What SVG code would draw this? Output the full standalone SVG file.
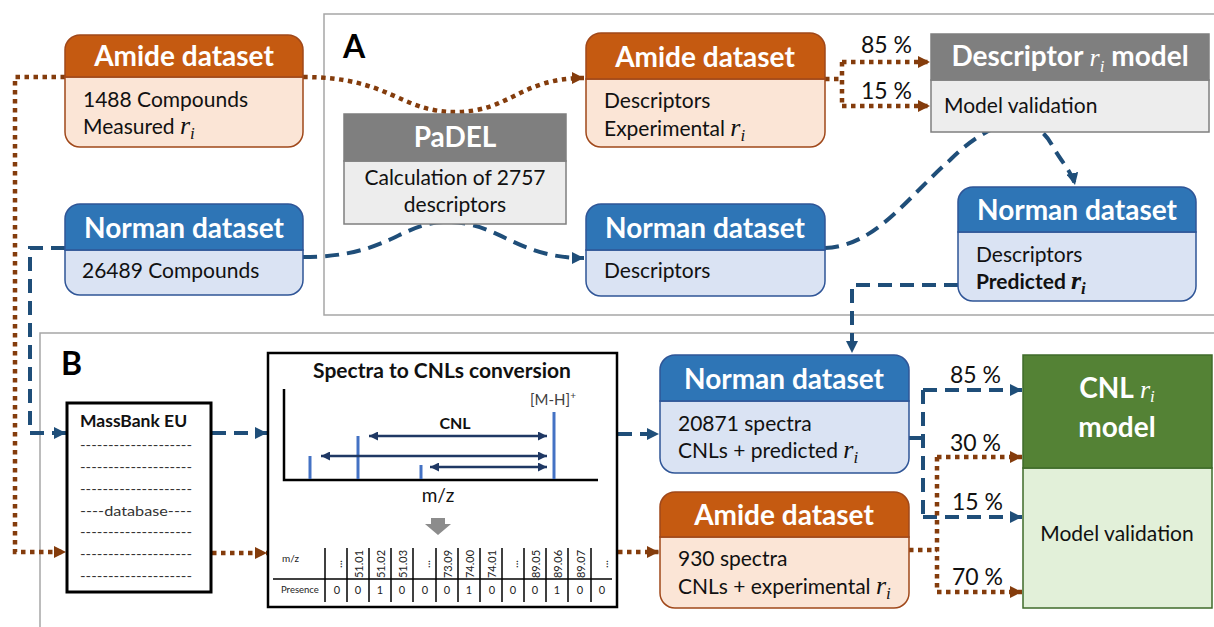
<svg xmlns="http://www.w3.org/2000/svg" width="1214" height="627" viewBox="0 0 1214 627">
  <style>
    text { font-family: Lato, "Liberation Sans", sans-serif; }
    .title { font-size: 28px; font-weight: bold; fill: #ffffff; text-anchor: middle; }
    .body { font-size: 21px; fill: #111111; }
    .mi { font-family: "Liberation Serif", serif; font-style: italic; font-size: 26px; }
    .sub { font-family: "Liberation Serif", serif; font-style: italic; font-size: 17px; }
    .panel { fill: none; stroke: #a6a6a6; stroke-width: 1.5; }
    .plabel { font-size: 32px; font-weight: bold; fill: #000; }
    .pct { font-size: 23px; fill: #111; }
    .blue-hd { fill: #2e75b6; stroke: #2f5597; stroke-width: 1.5; }
    .blue-bd { fill: #dae3f3; stroke: #2f5597; stroke-width: 1.5; }
    .or-hd { fill: #c55a11; stroke: #a0481a; stroke-width: 1.5; }
    .or-bd { fill: #fbe5d6; stroke: #a0481a; stroke-width: 1.5; }
    .gr-hd { fill: #7f7f7f; stroke: #7f7f7f; stroke-width: 1.5; }
    .gr-bd { fill: #ededed; stroke: #7f7f7f; stroke-width: 1.5; }
    .dash-b { fill: none; stroke: #1f4e79; stroke-width: 4; stroke-dasharray: 14 8; }
    .dot-o { fill: none; stroke: #843c0c; stroke-width: 4.5; stroke-dasharray: 4.5 4.5; }
    .peak { stroke: #4472c4; stroke-width: 3; }
    .dbl { stroke: #1f3864; stroke-width: 2.5; fill: none; }
    .tbl { stroke: #000; stroke-width: 1.5; }
    .small { font-size: 11px; fill: #222; text-anchor: middle; }
  </style>
  <defs>
    <marker id="ah-b" viewBox="0 0 12 12" refX="12" refY="6" markerWidth="12" markerHeight="12" markerUnits="userSpaceOnUse" orient="auto">
      <path d="M0,0 L12,6 L0,12 z" fill="#1f4e79"/>
    </marker>
    <marker id="ah-o" viewBox="0 0 12 12" refX="12" refY="6" markerWidth="12" markerHeight="12" markerUnits="userSpaceOnUse" orient="auto">
      <path d="M0,0 L12,6 L0,12 z" fill="#843c0c"/>
    </marker>
    <marker id="ah-n" viewBox="0 0 10 10" refX="10" refY="5" markerWidth="9" markerHeight="9" markerUnits="userSpaceOnUse" orient="auto-start-reverse">
      <path d="M0,0 L10,5 L0,10 z" fill="#1f3864"/>
    </marker>
  </defs>

  <rect width="1214" height="627" fill="#ffffff"/>

  <!-- panel frames -->
  <g id="panel-a">
    <rect class="panel" x="324" y="14" width="900" height="301"/>
    <text class="plabel" x="343" y="58">A</text>
  </g>
  <g id="panel-b">
    <path class="panel" d="M40,640 V333 H1220"/>
    <text class="plabel" x="61" y="375">B</text>
  </g>

  <!-- connectors -->
  <g id="connectors">
    <!-- amide (raw) to amide (descriptors) -->
    <path class="dot-o" d="M303,77 C390,77 400,112 455,112 C510,112 520,78 584,78" marker-end="url(#ah-o)"/>
    <!-- norman (raw) to norman (descriptors) -->
    <path class="dash-b" d="M303,257 C390,257 400,222 447,222 C500,222 515,258 584,258" marker-end="url(#ah-b)"/>
    <!-- amide split into descriptor model -->
    <path class="dot-o" d="M825,79 H842 M842,62 V106"/>
    <path class="dot-o" d="M842,62 H930" marker-end="url(#ah-o)"/>
    <path class="dot-o" d="M842,106 H930" marker-end="url(#ah-o)"/>
    <!-- norman descriptors through model to predicted -->
    <path class="dash-b" d="M825,248 C875,246 905,200 950,160 C985,125 1030,105 1052,145 C1062,163 1072,172 1075,185" marker-end="url(#ah-b)"/>
    <!-- predicted ri down to panel B -->
    <path class="dash-b" d="M958,285 H852 V353" marker-end="url(#ah-b)"/>
    <!-- long left connectors into MassBank -->
    <path class="dot-o" d="M65,77 H15 V552 H66" marker-end="url(#ah-o)"/>
    <path class="dash-b" d="M65,248 H30 V433 H66" marker-end="url(#ah-b)"/>
    <!-- MassBank to conversion -->
    <path class="dash-b" d="M212,433 H267" marker-end="url(#ah-b)"/>
    <path class="dot-o" d="M212,553 H267" marker-end="url(#ah-o)"/>
    <!-- conversion to datasets -->
    <path class="dash-b" d="M618,434 H659" marker-end="url(#ah-b)"/>
    <path class="dot-o" d="M618,552 H659" marker-end="url(#ah-o)"/>
    <!-- norman split into CNL model -->
    <path class="dash-b" d="M909,438 H923 M923,390 V517"/>
    <path class="dash-b" d="M923,390 H1022" marker-end="url(#ah-b)"/>
    <path class="dash-b" d="M923,517 H1022" marker-end="url(#ah-b)"/>
    <!-- amide split into CNL model -->
    <path class="dot-o" d="M909,550 H937 M937,457 V592"/>
    <path class="dot-o" d="M937,457 H1022" marker-end="url(#ah-o)"/>
    <path class="dot-o" d="M937,592 H1022" marker-end="url(#ah-o)"/>
  </g>

  <!-- split labels -->
  <g id="split-labels">
    <text class="pct" x="861" y="53">85 %</text>
    <text class="pct" x="861" y="99">15 %</text>
    <text class="pct" x="950" y="383">85 %</text>
    <text class="pct" x="950" y="451">30 %</text>
    <text class="pct" x="952" y="510">15 %</text>
    <text class="pct" x="952" y="585">70 %</text>
  </g>

  <!-- Amide dataset (raw) -->
  <g id="amide-raw">
    <path class="or-bd" d="M65,77 H303 V132 a15,15 0 0 1 -15,15 H80 a15,15 0 0 1 -15,-15 z"/>
    <path class="or-hd" d="M65,77 V50 a15,15 0 0 1 15,-15 H288 a15,15 0 0 1 15,15 V77 z"/>
    <text class="title" x="184" y="66">Amide dataset</text>
    <text class="body" x="83" y="107">1488 Compounds</text>
    <text class="body" x="83" y="134">Measured <tspan class="mi">r</tspan><tspan class="sub" dy="5">i</tspan></text>
  </g>

  <!-- Norman dataset (raw) -->
  <g id="norman-raw">
    <path class="blue-bd" d="M65,250 H303 V280 a15,15 0 0 1 -15,15 H80 a15,15 0 0 1 -15,-15 z"/>
    <path class="blue-hd" d="M65,250 V219 a15,15 0 0 1 15,-15 H288 a15,15 0 0 1 15,15 V250 z"/>
    <text class="title" x="184" y="238">Norman dataset</text>
    <text class="body" x="82" y="278">26489 Compounds</text>
  </g>

  <!-- PaDEL -->
  <g id="padel">
    <rect class="gr-bd" x="344" y="161" width="222" height="63"/>
    <rect class="gr-hd" x="344" y="114" width="222" height="47"/>
    <text class="title" x="455" y="147">PaDEL</text>
    <text class="body" x="455" y="185" text-anchor="middle">Calculation of 2757</text>
    <text class="body" x="455" y="212" text-anchor="middle">descriptors</text>
  </g>

  <!-- Amide dataset (descriptors) -->
  <g id="amide-desc">
    <path class="or-bd" d="M586,79 H825 V132 a15,15 0 0 1 -15,15 H601 a15,15 0 0 1 -15,-15 z"/>
    <path class="or-hd" d="M586,79 V48 a15,15 0 0 1 15,-15 H810 a15,15 0 0 1 15,15 V79 z"/>
    <text class="title" x="705" y="67">Amide dataset</text>
    <text class="body" x="604" y="108">Descriptors</text>
    <text class="body" x="604" y="136">Experimental <tspan class="mi">r</tspan><tspan class="sub" dy="5">i</tspan></text>
  </g>

  <!-- Norman dataset (descriptors) -->
  <g id="norman-desc">
    <path class="blue-bd" d="M586,250 H825 V281 a15,15 0 0 1 -15,15 H601 a15,15 0 0 1 -15,-15 z"/>
    <path class="blue-hd" d="M586,250 V219 a15,15 0 0 1 15,-15 H810 a15,15 0 0 1 15,15 V250 z"/>
    <text class="title" x="705" y="238">Norman dataset</text>
    <text class="body" x="604" y="278">Descriptors</text>
  </g>

  <!-- Descriptor ri model -->
  <g id="descriptor-model">
    <rect class="gr-bd" x="931" y="80" width="278" height="52"/>
    <rect class="gr-hd" x="931" y="34" width="278" height="46"/>
    <text class="title" x="1070" y="66">Descriptor <tspan class="mi" font-size="31" font-weight="normal">r</tspan><tspan class="sub" font-size="20" font-weight="normal" dy="6">i</tspan><tspan dy="-6"> model</tspan></text>
    <text class="body" x="944" y="113">Model validation</text>
  </g>

  <!-- Norman dataset (predicted) -->
  <g id="norman-pred">
    <path class="blue-bd" d="M958,232 H1196 V286 a15,15 0 0 1 -15,15 H973 a15,15 0 0 1 -15,-15 z"/>
    <path class="blue-hd" d="M958,232 V202 a15,15 0 0 1 15,-15 H1181 a15,15 0 0 1 15,15 V232 z"/>
    <text class="title" x="1077" y="220">Norman dataset</text>
    <text class="body" x="976" y="262">Descriptors</text>
    <text class="body" x="976" y="289" font-weight="bold">Predicted <tspan class="mi" font-weight="bold">r</tspan><tspan class="sub" font-weight="bold" dy="5">i</tspan></text>
  </g>

  <!-- MassBank EU -->
  <g id="massbank">
    <rect x="67" y="403" width="144" height="189" fill="#ffffff" stroke="#000" stroke-width="3"/>
    <text x="80" y="427" font-size="17.5" font-weight="bold" fill="#111">MassBank EU</text>
    <g font-size="14" fill="#333">
      <text x="80" y="450" textLength="112" lengthAdjust="spacingAndGlyphs">--------------------</text>
      <text x="80" y="472" textLength="112" lengthAdjust="spacingAndGlyphs">--------------------</text>
      <text x="80" y="494" textLength="112" lengthAdjust="spacingAndGlyphs">--------------------</text>
      <text x="80" y="516" textLength="112" lengthAdjust="spacingAndGlyphs">----database----</text>
      <text x="80" y="537" textLength="112" lengthAdjust="spacingAndGlyphs">--------------------</text>
      <text x="80" y="559" textLength="112" lengthAdjust="spacingAndGlyphs">--------------------</text>
      <text x="80" y="581" textLength="112" lengthAdjust="spacingAndGlyphs">--------------------</text>
    </g>
  </g>

  <!-- Spectra to CNLs conversion -->
  <g id="conversion">
    <rect x="268" y="353" width="349" height="254" fill="#ffffff" stroke="#000" stroke-width="2.5"/>
    <text x="442" y="378" font-size="21" font-weight="bold" fill="#111" text-anchor="middle">Spectra to CNLs conversion</text>
    <path d="M284,389 V480 H598" fill="none" stroke="#000" stroke-width="2.5"/>
    <line class="peak" x1="310" y1="456" x2="310" y2="479"/>
    <line class="peak" x1="358" y1="436" x2="358" y2="479"/>
    <line class="peak" x1="421" y1="465" x2="421" y2="479"/>
    <line class="peak" x1="554" y1="412" x2="554" y2="479"/>
    <text x="530" y="405" font-size="15" fill="#404040">[M-H]<tspan font-size="10" dy="-6">+</tspan></text>
    <text x="455" y="429" font-size="16" font-weight="bold" fill="#111" text-anchor="middle">CNL</text>
    <line class="dbl" x1="369" y1="436" x2="547" y2="436" marker-start="url(#ah-n)" marker-end="url(#ah-n)"/>
    <line class="dbl" x1="321" y1="456" x2="547" y2="456" marker-start="url(#ah-n)" marker-end="url(#ah-n)"/>
    <line class="dbl" x1="430" y1="467" x2="547" y2="467" marker-start="url(#ah-n)" marker-end="url(#ah-n)"/>
    <text x="438" y="502" font-size="19" fill="#111" text-anchor="middle">m/z</text>
    <path d="M431,518 H445 V524 H451 L438,535 L425,524 H431 z" fill="#8c8c8c"/>
    <!-- binned CNL table -->
    <line class="tbl" x1="273" y1="579" x2="612" y2="579"/>
    <g class="tbl">
      <line x1="325" y1="548" x2="325" y2="602"/>
      <line x1="347" y1="548" x2="347" y2="602"/>
      <line x1="369" y1="548" x2="369" y2="602"/>
      <line x1="391" y1="548" x2="391" y2="602"/>
      <line x1="413" y1="548" x2="413" y2="602"/>
      <line x1="436" y1="548" x2="436" y2="602"/>
      <line x1="458" y1="548" x2="458" y2="602"/>
      <line x1="480" y1="548" x2="480" y2="602"/>
      <line x1="502" y1="548" x2="502" y2="602"/>
      <line x1="524" y1="548" x2="524" y2="602"/>
      <line x1="546" y1="548" x2="546" y2="602"/>
      <line x1="568" y1="548" x2="568" y2="602"/>
      <line x1="591" y1="548" x2="591" y2="602"/>
    </g>
    <text x="282" y="562" font-size="10" fill="#222">m/z</text>
    <text x="281" y="593" font-size="9.5" fill="#222">Presence</text>
    <g class="small" dominant-baseline="central">
      <text transform="translate(337,564) rotate(-90)">...</text>
      <text transform="translate(358,564) rotate(-90)">51.01</text>
      <text transform="translate(380,564) rotate(-90)">51.02</text>
      <text transform="translate(402,564) rotate(-90)">51.03</text>
      <text transform="translate(425,564) rotate(-90)">...</text>
      <text transform="translate(447,564) rotate(-90)">73.09</text>
      <text transform="translate(469,564) rotate(-90)">74.00</text>
      <text transform="translate(491,564) rotate(-90)">74.01</text>
      <text transform="translate(513,564) rotate(-90)">...</text>
      <text transform="translate(535,564) rotate(-90)">89.05</text>
      <text transform="translate(557,564) rotate(-90)">89.06</text>
      <text transform="translate(580,564) rotate(-90)">89.07</text>
      <text transform="translate(603,564) rotate(-90)">...</text>
    </g>
    <g class="small">
      <text x="337" y="594">0</text>
      <text x="358" y="594">0</text>
      <text x="380" y="594">1</text>
      <text x="402" y="594">0</text>
      <text x="425" y="594">0</text>
      <text x="447" y="594">0</text>
      <text x="469" y="594">1</text>
      <text x="492" y="594">0</text>
      <text x="513" y="594">0</text>
      <text x="535" y="594">0</text>
      <text x="557" y="594">1</text>
      <text x="580" y="594">0</text>
      <text x="602" y="594">0</text>
    </g>
  </g>

  <!-- Norman dataset (spectra) -->
  <g id="norman-spectra">
    <path class="blue-bd" d="M660,401 H909 V458 a15,15 0 0 1 -15,15 H675 a15,15 0 0 1 -15,-15 z"/>
    <path class="blue-hd" d="M660,401 V370 a15,15 0 0 1 15,-15 H894 a15,15 0 0 1 15,15 V401 z"/>
    <text class="title" x="784" y="389">Norman dataset</text>
    <text class="body" x="678" y="431">20871 spectra</text>
    <text class="body" x="678" y="458">CNLs + predicted <tspan class="mi">r</tspan><tspan class="sub" dy="5">i</tspan></text>
  </g>

  <!-- Amide dataset (spectra) -->
  <g id="amide-spectra">
    <path class="or-bd" d="M660,537 H909 V593 a15,15 0 0 1 -15,15 H675 a15,15 0 0 1 -15,-15 z"/>
    <path class="or-hd" d="M660,537 V507 a15,15 0 0 1 15,-15 H894 a15,15 0 0 1 15,15 V537 z"/>
    <text class="title" x="784" y="525">Amide dataset</text>
    <text class="body" x="678" y="566">930 spectra</text>
    <text class="body" x="678" y="594">CNLs + experimental <tspan class="mi">r</tspan><tspan class="sub" dy="5">i</tspan></text>
  </g>

  <!-- CNL ri model -->
  <g id="cnl-model">
    <rect x="1023" y="468" width="189" height="140" fill="#e2f0d9" stroke="#3f6b2a" stroke-width="1.5"/>
    <rect x="1023" y="355" width="189" height="113" fill="#548235" stroke="#3f6b2a" stroke-width="1.5"/>
    <text class="title" x="1117" y="398">CNL <tspan class="mi" font-size="31" font-weight="normal">r</tspan><tspan class="sub" font-size="18" font-weight="normal" dy="4">i</tspan></text>
    <text class="title" x="1117" y="437">model</text>
    <text class="body" x="1117" y="541" text-anchor="middle">Model validation</text>
  </g>
</svg>
